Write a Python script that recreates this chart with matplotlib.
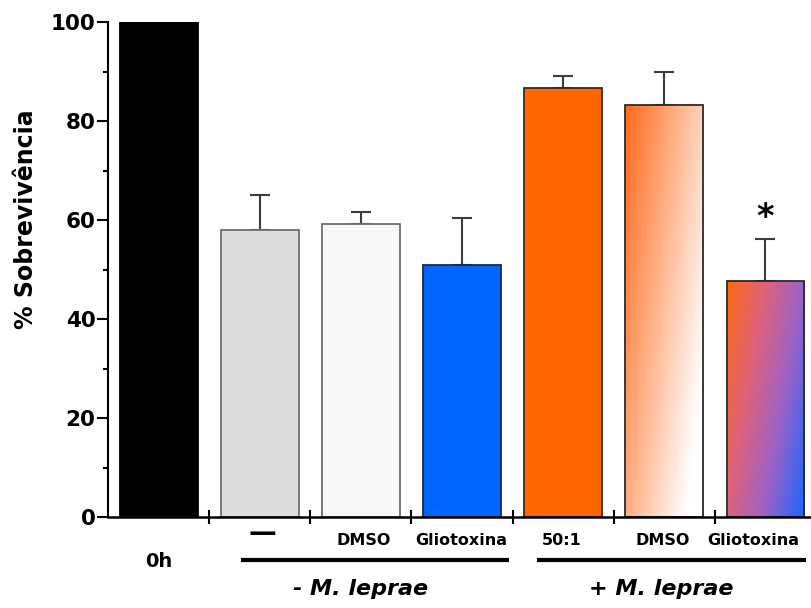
import numpy as np
import matplotlib
matplotlib.use("Agg")
import matplotlib.pyplot as plt
from matplotlib.colors import LinearSegmentedColormap
from matplotlib.transforms import blended_transform_factory

# Survival data (% of 0h control), mean and upper SEM
groups = ["0h", "\u2014", "DMSO", "Gliotoxina", "50:1", "DMSO", "Gliotoxina"]
survival = [100.0, 58.0, 59.2, 51.0, 86.6, 83.2, 47.7]
sem = [0.0, 7.0, 2.5, 9.5, 2.5, 6.6, 8.4]
group_titles = ["- M. leprae", "+ M. leprae"]
yticks = [0, 20, 40, 60, 80, 100]

plt.rcParams["font.family"] = ["DejaVu Sans"]
plt.rcParams["font.weight"] = "bold"

fig = plt.figure(figsize=(8.12, 6.08), dpi=100)
ax = fig.add_axes([108 / 812, 91 / 608, 704 / 812, 495 / 608])

x = np.arange(len(survival))
width = 0.77
solid = ["#000000", "#dcdcdc", "#f7f7f7", "#0066ff", "#ff6600", "none", "none"]
edges = ["#000000", "#6e6e6e", "#6e6e6e", "#1a2a50", "#3a2a20", "#2a2a2a", "#2a2a2a"]

bars = ax.bar(x, survival, width=width, color=solid, edgecolor=edges,
              linewidth=1.3, zorder=2)

# upper-only error bars
err_x = x[1:]
ax.errorbar(err_x, np.array(survival[1:]),
            yerr=[np.zeros(len(err_x)), np.array(sem[1:])],
            fmt="none", ecolor="#3c3c3c", elinewidth=1.5, capsize=7.5,
            capthick=1.5, zorder=1.5)

# diagonal gradient fills
orange_white = LinearSegmentedColormap.from_list(
    "ow", ["#ff6a1a", "#ffffff"])
orange_blue = LinearSegmentedColormap.from_list(
    "ob", [(0.0, "#ff6a10"), (0.32, "#e0637a"), (0.65, "#9c62c6"),
           (1.0, "#1a66ff")])

def gradient_fill(bar, cmap, a, b):
    nx, ny = 80, 400
    xf = np.linspace(0, 1, nx)[None, :]
    yf = np.linspace(0, 1, ny)[:, None]
    t = np.clip(a * xf + b * yf, 0, 1)
    x0 = bar.get_x()
    x1 = x0 + bar.get_width()
    h = bar.get_height()
    im = ax.imshow(t, extent=[x0, x1, 0, h], origin="upper", aspect="auto",
                   cmap=cmap, vmin=0, vmax=1, zorder=1.9, interpolation="bilinear")
    im.set_clip_path(bar)

gradient_fill(bars[5], orange_white, 0.7, 0.45)
gradient_fill(bars[6], orange_blue, 0.65, 0.35)

ax.set_xlim(-0.5, 6.46)
ax.set_ylim(0, 100)

# axes styling
for side in ["top", "right"]:
    ax.spines[side].set_visible(False)
ax.spines["left"].set_linewidth(1.5)
ax.spines["bottom"].set_linewidth(1.8)

ax.set_yticks(yticks)
ax.set_yticks(np.arange(10, 100, 20), minor=True)
ax.tick_params(axis="y", which="major", length=8, width=1.5, pad=1,
               labelsize=15.5)
ax.tick_params(axis="y", which="minor", length=3.8, width=1.5)
for lbl in ax.get_yticklabels():
    lbl.set_fontweight("bold")

ax.set_xticks(np.arange(0.5, 6.0, 1.0))
ax.set_xticklabels([])
ax.tick_params(axis="x", which="major", direction="inout", length=10,
               width=1.5)

ax.set_ylabel("% Sobrevivência", fontsize=17, fontweight="bold")
ax.yaxis.set_label_coords(-0.1, 0.602)

trans = blended_transform_factory(ax.transData, ax.transAxes)

# category labels
ax.text(0, -0.089, groups[0], transform=trans, ha="center", va="center",
        fontsize=14, fontweight="bold")
ax.text(1.03, -0.032, groups[1], transform=trans, ha="center", va="center",
        fontsize=20, fontweight="bold")
nudge = [0, 0, 0.03, -0.01, -0.01, -0.02, -0.12]
for i in range(2, len(groups)):
    ax.text(x[i] + nudge[i], -0.047, groups[i], transform=trans,
            ha="center", va="center", fontsize=11.5, fontweight="bold")

# group brackets
for (g0, g1), title, cx in zip([(0.81, 3.46), (3.74, 6.40)], group_titles,
                               [2.0, 4.97]):
    ax.plot([g0, g1], [-0.087, -0.087], transform=trans, color="black",
            lw=3, clip_on=False, solid_capstyle="butt")
    ax.text(cx, -0.145, title, transform=trans, ha="center", va="center",
            fontsize=16, fontweight="bold", fontstyle="italic")

# significance marker
ax.text(x[6], survival[6] + sem[6] + 4.5, "*", ha="center", va="center",
        fontsize=24, fontweight="bold")

fig.savefig("out.png", dpi=100)
